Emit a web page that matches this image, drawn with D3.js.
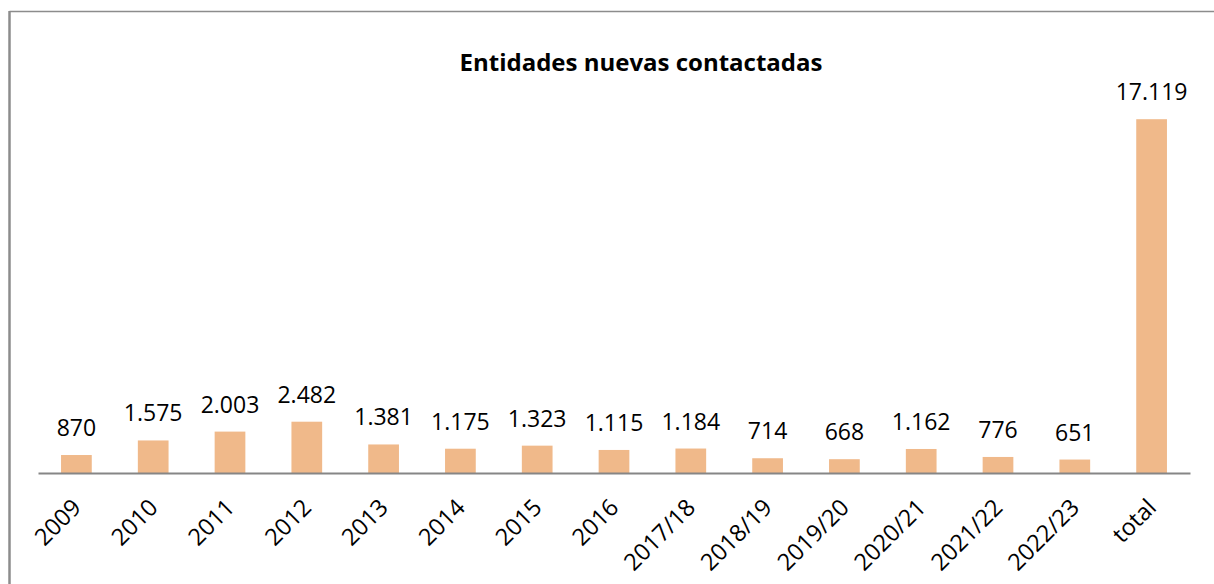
<!DOCTYPE html>
<html>
<head>
<meta charset="utf-8">
<script src="https://cdn.jsdelivr.net/npm/d3@7.9.0/dist/d3.min.js"></script>
<style>
  body { margin: 0; background: #fff; }
  svg { display: block; }
</style>
</head>
<body>
<div id="chart"></div>
<script>
const width = 1214;
const height = 584;

const categories = ["2009", "2010", "2011", "2012", "2013", "2014", "2015", "2016",
  "2017/18", "2018/19", "2019/20", "2020/21", "2021/22", "2022/23", "total"];
const values = [870, 1575, 2003, 2482, 1381, 1175, 1323, 1115, 1184, 714, 668, 1162, 776, 651, 17119];
const title = "Entidades nuevas contactadas";

const data = categories.map((c, i) => ({ cat: c, value: values[i] }));

const fmt = v => d3.format(",")(v).replace(/,/g, ".");

const margin = { top: 101, right: 24, bottom: 111, left: 38 };

const svg = d3.select("#chart")
  .append("svg")
  .attr("width", width)
  .attr("height", height);

// chart frame
svg.append("line")
  .attr("x1", 9.5).attr("x2", width).attr("y1", 11.5).attr("y2", 11.5)
  .attr("stroke", "#8c8c8c").attr("stroke-width", 1.5);
svg.append("line")
  .attr("x1", 9.5).attr("x2", 9.5).attr("y1", 11).attr("y2", height)
  .attr("stroke", "#8c8c8c").attr("stroke-width", 2.5);

const x = d3.scaleBand()
  .domain(categories)
  .range([margin.left, width - margin.right])
  .paddingInner(0.6)
  .paddingOuter(0.3);

const y = d3.scaleLinear()
  .domain([0, 18000])
  .range([height - margin.bottom, margin.top]);

svg.append("text")
  .attr("x", 641)
  .attr("y", 71)
  .attr("text-anchor", "middle")
  .attr("font-family", "Open Sans, sans-serif")
  .attr("font-weight", "bold")
  .attr("font-size", 24)
  .text(title);

svg.append("g")
  .selectAll("rect")
  .data(data)
  .join("rect")
  .attr("x", d => x(d.cat))
  .attr("y", d => y(d.value))
  .attr("width", x.bandwidth())
  .attr("height", d => y(0) - y(d.value))
  .attr("fill", "#f0b98a");

svg.append("g")
  .selectAll("text")
  .data(data)
  .join("text")
  .attr("x", d => x(d.cat) + x.bandwidth() / 2)
  .attr("y", d => y(d.value) - 19)
  .attr("text-anchor", "middle")
  .attr("font-family", "Open Sans, sans-serif")
  .attr("font-size", 23)
  .attr("fill", "#000")
  .text(d => fmt(d.value));

const xAxis = svg.append("g")
  .attr("transform", `translate(0,${y(0)})`)
  .call(d3.axisBottom(x).tickSize(0).tickPadding(0));

xAxis.select(".domain").attr("stroke", "#868686").attr("stroke-width", 2);

xAxis.selectAll(".tick text")
  .attr("font-family", "Open Sans, sans-serif")
  .attr("font-size", 23.5)
  .attr("fill", "#000")
  .attr("text-anchor", "end")
  .attr("dy", 0)
  .attr("transform", "translate(6,36) rotate(-45)");
</script>
</body>
</html>
